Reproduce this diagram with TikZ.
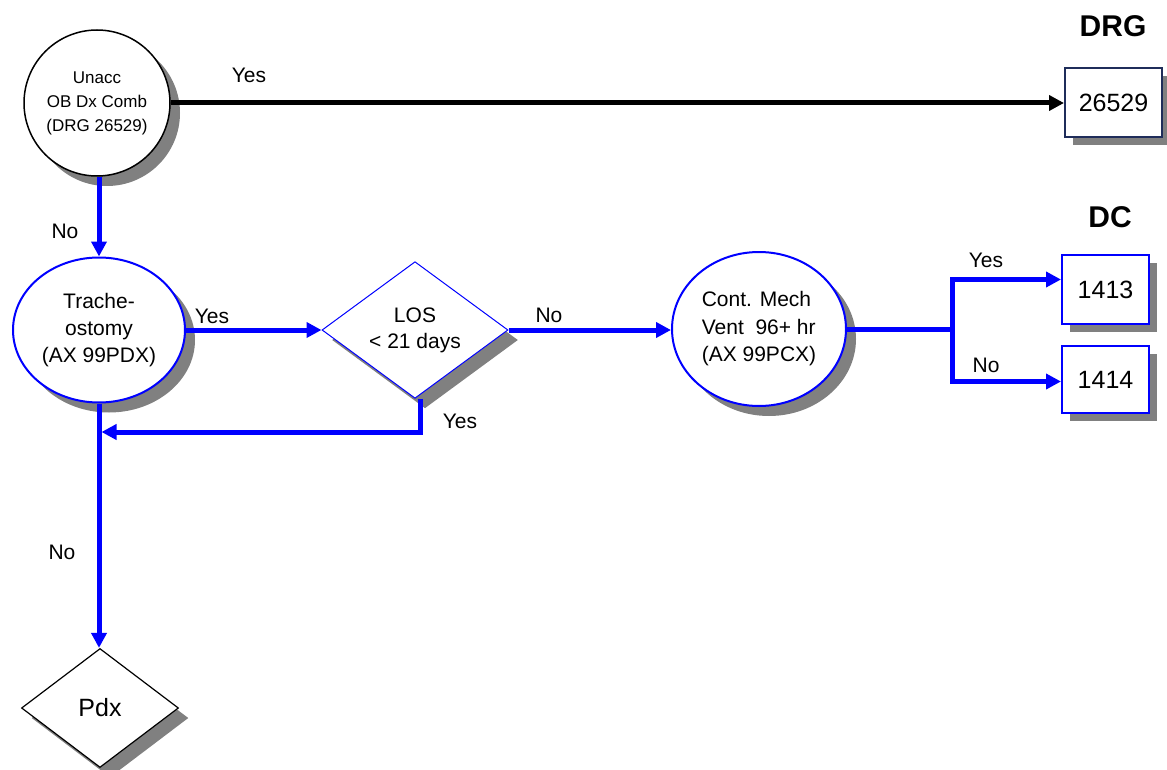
\documentclass[tikz,border=0pt]{standalone}
\usepackage{fontspec}
\setmainfont{Liberation Sans}
\usetikzlibrary{shapes.geometric,shadows,arrows.meta,calc}
\definecolor{shgray}{RGB}{128,128,128}
\definecolor{navy}{RGB}{31,45,90}
\tikzset{
 sh/.style={drop shadow={shadow xshift=10pt,shadow yshift=-10pt,fill=shgray,opacity=1}},
 shs/.style={drop shadow={shadow xshift=8pt,shadow yshift=-8pt,fill=shgray,opacity=1}},
 bl/.style={draw=blue,line width=5pt},
 arr/.style={-{Triangle[length=15pt,width=15pt]}},
 lbl/.style={font=\fontsize{21}{25}\selectfont, inner sep=0, anchor=base},
 hdr/.style={font=\bfseries\fontsize{30}{34}\selectfont, inner sep=0, anchor=base},
 numbox/.style={rectangle, draw=blue, line width=2pt, fill=white, inner sep=0, shs, font=\fontsize{25}{30}\selectfont},
}
\begin{document}
\begin{tikzpicture}[x=1pt,y=-1pt]
\useasboundingbox (0,0) rectangle (1167,770);
% nodes
\node[circle, draw=black, line width=1.5pt, fill=white, minimum size=146pt, inner sep=0, sh, align=center, font=\fontsize{17}{24}\selectfont] (unacc) at (97,103) {Unacc\\OB Dx Comb\\(DRG 26529)};
\node[rectangle, draw=navy, line width=2pt, fill=white, minimum width=97pt, minimum height=69pt, inner sep=0, shs, font=\fontsize{25}{30}\selectfont] (drg) at (1113.5,103) {26529};
\node[ellipse, draw=blue, line width=2pt, fill=white, minimum width=172pt, minimum height=145pt, inner sep=0, sh, align=center, font=\fontsize{21}{27}\selectfont] (trache) at (99,330) {Trache-\\ostomy\\(AX 99PDX)};
\node[diamond, draw=blue, line width=1pt, fill=white, minimum width=186pt, minimum height=125pt, inner sep=0, sh, align=center, font=\fontsize{21}{26}\selectfont] (los) at (415,330) {LOS\\< 21 days};
\node[ellipse, draw=blue, line width=2pt, fill=white, minimum width=174pt, minimum height=154pt, inner sep=0, sh, align=left, font=\fontsize{21}{27.5}\selectfont] (cont) at (759,329) {Cont. Mech\\Vent\ \ 96+ hr\\(AX 99PCX)};
\node[numbox, minimum width=87pt, minimum height=69pt] (b1413) at (1105.5,289.5) {1413};
\node[numbox, minimum width=87pt, minimum height=67pt] (b1414) at (1105.5,379.5) {1414};
\node[diamond, draw=black, line width=1.2pt, fill=white, minimum width=157pt, minimum height=119pt, inner sep=0, sh, font=\fontsize{25}{30}\selectfont] (pdx) at (100,708) {Pdx};
% headers
\node[hdr] (hdrg) at (1113,37) {DRG};
\node[hdr] (hdc) at (1110,227) {DC};
% connectors
\draw[line width=5pt, arr] (unacc.east) -- (drg.west);
\draw[bl, arr] ([xshift=2pt]unacc.south) -- (trache.north);
\draw[bl, arr] (trache.east) -- (los.west);
\draw[bl, arr] (los.east) -- (los.east -| cont.west);
\coordinate (sp) at (952,329);
\draw[bl] (cont.east) -- (sp);
\draw[bl, arr] (sp) |- ([yshift=10pt]b1413.west);
\draw[bl, arr] (sp) |- ([yshift=-2pt]b1414.west);
\coordinate (jn) at (101.5,432);
\draw[bl, arr] ([xshift=5pt]los.south) |- (jn);
\draw[bl, arr] (trache.south) -- ([xshift=-1pt]pdx.north);
% labels
\node[lbl] (l1) at (249,83) {Yes};
\node[lbl] (l2) at (65,238) {No};
\node[lbl] (l3) at (212,323) {Yes};
\node[lbl] (l4) at (549,322) {No};
\node[lbl] (l5) at (460,428) {Yes};
\node[lbl] (l6) at (62,559) {No};
\node[lbl] (l7) at (986,267) {Yes};
\node[lbl] (l8) at (986,372) {No};
\end{tikzpicture}
\end{document}
